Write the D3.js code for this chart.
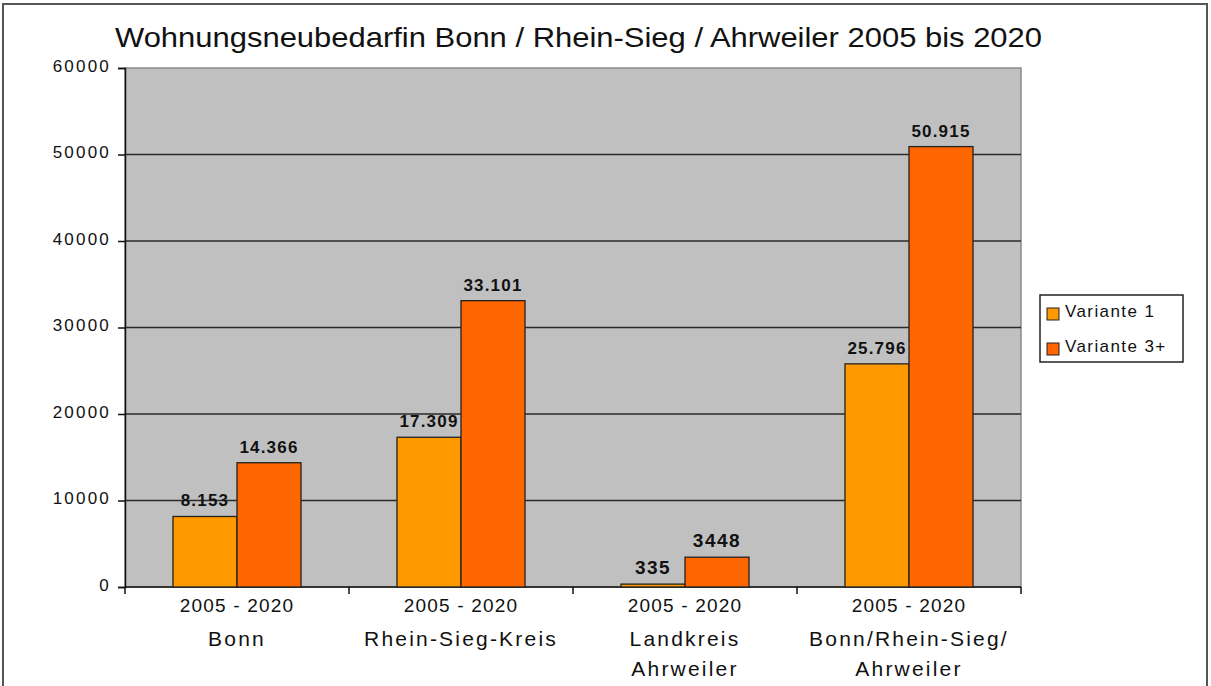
<!DOCTYPE html>
<html>
<head>
<meta charset="utf-8">
<script src="https://cdn.jsdelivr.net/npm/d3@7"></script>
<style>
  html, body { margin: 0; padding: 0; background: #fff; }
  svg { display: block; }
  text { font-family: "Liberation Sans", Arial, sans-serif; fill: #111; }
</style>
</head>
<body>
<svg id="chart" width="1211" height="686"></svg>
<script>
// Chart data
const categories = ["Bonn", "Rhein-Sieg-Kreis", "Landkreis Ahrweiler", "Bonn/Rhein-Sieg/ Ahrweiler"];
const categoryLines = [["Bonn"], ["Rhein-Sieg-Kreis"], ["Landkreis", "Ahrweiler"], ["Bonn/Rhein-Sieg/", "Ahrweiler"]];
const periodLabel = "2005 - 2020";
const seriesNames = ["Variante 1", "Variante 3+"];
const variante1 = [8153, 17309, 335, 25796];
const variante3 = [14366, 33101, 3448, 50915];
const labels1 = ["8.153", "17.309", "335", "25.796"];
const labels3 = ["14.366", "33.101", "3448", "50.915"];
const yTicks = [0, 10000, 20000, 30000, 40000, 50000, 60000];
const colors = ["#FF9900", "#FF6600"];
const titleText = "Wohnungsneubedarfin Bonn / Rhein-Sieg / Ahrweiler 2005 bis 2020";

const svg = d3.select("#chart");
const W = 1211, H = 686;

// outer frame
svg.append("rect").attr("x", 3).attr("y", 4).attr("width", 1204).attr("height", H + 10)
  .attr("fill", "#fff").attr("stroke", "#555").attr("stroke-width", 2);

const plot = { left: 125, right: 1021, top: 68, bottom: 587 };

const x0 = d3.scaleBand().domain(categories).range([plot.left, plot.right]).paddingInner(0).paddingOuter(0);
const x1 = d3.scaleBand().domain(seriesNames).range([0, x0.bandwidth()]).paddingInner(0).paddingOuter(0.75);
const y = d3.scaleLinear().domain([0, 60000]).range([plot.bottom, plot.top]);

// plot background
svg.append("rect")
  .attr("x", plot.left).attr("y", plot.top)
  .attr("width", plot.right - plot.left).attr("height", plot.bottom - plot.top)
  .attr("fill", "#C0C0C0").attr("stroke", "#8a8a8a").attr("stroke-width", 1.5);

// gridlines
svg.append("g").selectAll("line")
  .data(yTicks.filter(t => t > 0 && t < 60000))
  .join("line")
  .attr("x1", plot.left).attr("x2", plot.right)
  .attr("y1", d => y(d)).attr("y2", d => y(d))
  .attr("stroke", "#2a2a2a").attr("stroke-width", 1.6);

// y axis
const yAxis = d3.axisLeft(y).tickValues(yTicks).tickSize(7).tickPadding(6).tickFormat(d3.format("d"));
const gy = svg.append("g").attr("transform", `translate(${plot.left},0)`).call(yAxis);
gy.select(".domain").attr("stroke", "#111").attr("stroke-width", 1.5);
gy.selectAll(".tick line").attr("stroke", "#111").attr("stroke-width", 1.5);
gy.selectAll(".tick text").attr("font-size", 17).attr("fill", "#222")
  .attr("font-family", "Liberation Sans, Arial, sans-serif")
  .attr("letter-spacing", 2.2).attr("x", -14).attr("dy", "0.2em");

// x axis line and ticks between groups
const gx = svg.append("g");
gx.append("line").attr("x1", plot.left).attr("x2", plot.right)
  .attr("y1", plot.bottom).attr("y2", plot.bottom).attr("stroke", "#111").attr("stroke-width", 1.6);
const boundaries = categories.map(c => x0(c)).concat([plot.right]);
gx.selectAll("line.tk").data(boundaries).join("line").attr("class", "tk")
  .attr("x1", d => d).attr("x2", d => d)
  .attr("y1", plot.bottom).attr("y2", plot.bottom + 7)
  .attr("stroke", "#111").attr("stroke-width", 1.5);

// bars
const groups = svg.append("g").selectAll("g")
  .data(categories.map((c, i) => ({ c, vals: [variante1[i], variante3[i]], labs: [labels1[i], labels3[i]] })))
  .join("g").attr("transform", d => `translate(${x0(d.c)},0)`);

groups.selectAll("rect")
  .data(d => d.vals.map((v, j) => ({ s: seriesNames[j], v, j })))
  .join("rect")
  .attr("x", d => x1(d.s))
  .attr("y", d => y(d.v))
  .attr("width", x1.bandwidth())
  .attr("height", d => y(0) - y(d.v))
  .attr("fill", d => colors[d.j])
  .attr("stroke", "#222").attr("stroke-width", 1.3);

// value labels (labels without thousands separator use a serif face)
groups.selectAll("text.val")
  .data(d => d.vals.map((v, j) => ({ s: seriesNames[j], v, lab: d.labs[j] })))
  .join("text").attr("class", "val")
  .attr("x", d => x1(d.s) + x1.bandwidth() / 2)
  .attr("y", d => y(d.v) - 10)
  .attr("text-anchor", "middle")
  .attr("font-weight", "bold").attr("fill", "#1a1a1a")
  .attr("font-size", d => d.lab.includes(".") ? 17 : 19)
  .attr("font-family", d => d.lab.includes(".") ? "Liberation Sans, Arial, sans-serif" : "Liberation Serif, Times New Roman, serif")
  .attr("letter-spacing", d => d.lab.includes(".") ? 1.2 : 1.5)
  .text(d => d.lab);

// category labels
const catG = svg.append("g").selectAll("g").data(categories).join("g")
  .attr("transform", d => `translate(${x0(d) + x0.bandwidth() / 2},0)`);
catG.append("text").attr("y", 612).attr("text-anchor", "middle")
  .attr("font-size", 19).attr("fill", "#222").attr("letter-spacing", 1.2).text(periodLabel);
catG.each(function(d, i) {
  const g = d3.select(this);
  categoryLines[i].forEach((line, k) => {
    g.append("text").attr("y", 646 + k * 30).attr("text-anchor", "middle")
      .attr("font-size", 21).attr("fill", "#333").attr("letter-spacing", 2.2).text(line);
  });
});

// title
svg.append("text").attr("x", 115).attr("y", 47)
  .attr("font-size", 28).attr("fill", "#111")
  .attr("textLength", 927).attr("lengthAdjust", "spacingAndGlyphs")
  .text(titleText);

// legend
const lg = svg.append("g").attr("transform", "translate(1040,295)");
lg.append("rect").attr("width", 143).attr("height", 67)
  .attr("fill", "#fff").attr("stroke", "#222").attr("stroke-width", 1.5);
const li = lg.selectAll("g").data(seriesNames).join("g")
  .attr("transform", (d, i) => `translate(7,${22 + i * 35})`);
li.append("rect").attr("y", -9).attr("width", 12).attr("height", 12)
  .attr("fill", (d, i) => colors[i]).attr("stroke", "#222").attr("stroke-width", 1);
li.append("text").attr("x", 18).attr("y", 0).attr("font-size", 17).attr("fill", "#111")
  .attr("letter-spacing", 1.4).text(d => d);
</script>
</body>
</html>
